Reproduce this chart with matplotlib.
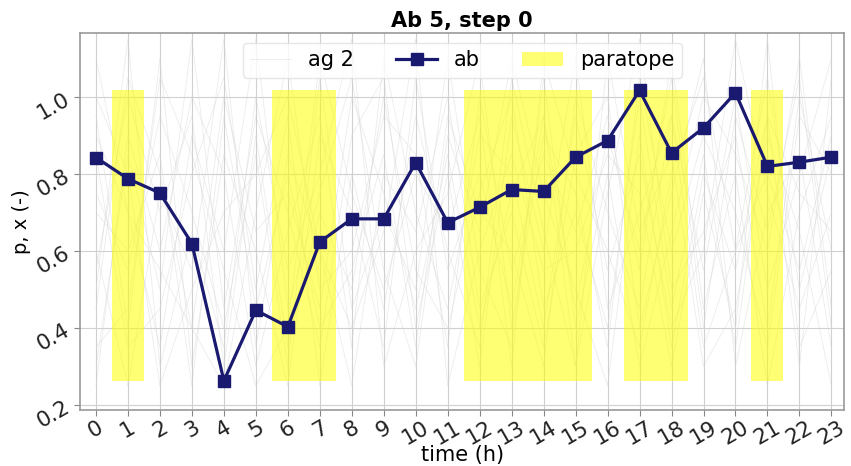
import numpy as np
import matplotlib.pyplot as plt

hours = list(range(24))
ab = [0.842, 0.787, 0.750, 0.619, 0.263, 0.446, 0.403, 0.623, 0.683, 0.683,
      0.829, 0.673, 0.713, 0.759, 0.754, 0.843, 0.886, 1.016, 0.854, 0.919,
      1.010, 0.819, 0.830, 0.843]
paratope = [1, 6, 7, 12, 13, 14, 15, 17, 18, 21]

# faint background antigen traces (hand-read approximations)
ag = [
    [0.95, 0.40, 1.10, 0.30, 0.85, 0.60, 0.25, 0.90, 0.70, 0.35, 1.05, 0.55, 0.80, 0.45, 0.95, 0.30, 0.75, 1.15, 0.50, 0.65, 0.90, 0.40, 1.00, 0.60],
    [0.30, 0.85, 0.50, 1.15, 0.45, 0.95, 0.70, 0.35, 0.90, 1.05, 0.40, 0.80, 0.30, 0.95, 0.60, 1.10, 0.45, 0.70, 0.95, 0.35, 0.60, 1.05, 0.50, 0.85],
    [0.60, 0.25, 0.75, 0.55, 1.15, 0.35, 0.85, 0.60, 0.25, 0.80, 0.65, 1.00, 0.45, 0.70, 0.35, 0.85, 1.00, 0.40, 0.75, 1.10, 0.30, 0.70, 0.85, 0.35],
    [1.10, 0.70, 0.35, 0.90, 0.60, 1.15, 0.45, 0.75, 1.05, 0.55, 0.30, 0.90, 0.65, 1.10, 0.75, 0.50, 0.25, 0.90, 0.35, 0.80, 0.55, 0.95, 0.30, 1.05],
    [0.45, 1.05, 0.80, 0.40, 0.25, 0.70, 1.10, 0.50, 0.60, 0.95, 0.85, 0.35, 1.00, 0.55, 0.85, 0.65, 0.95, 0.55, 1.10, 0.45, 0.80, 0.25, 0.70, 0.95],
    [0.75, 0.55, 0.95, 0.70, 0.40, 0.85, 0.30, 1.05, 0.45, 0.70, 0.50, 1.10, 0.55, 0.35, 1.05, 0.40, 0.80, 0.30, 0.65, 1.00, 0.85, 0.60, 1.10, 0.45],
    [0.25, 0.90, 0.60, 1.00, 0.80, 0.30, 0.65, 0.95, 0.35, 1.10, 0.70, 0.45, 0.90, 0.80, 0.40, 0.95, 0.55, 0.85, 0.40, 0.60, 1.15, 0.75, 0.45, 0.70],
    [0.85, 0.35, 0.45, 0.80, 1.05, 0.50, 0.95, 0.25, 0.80, 0.45, 0.95, 0.60, 0.35, 1.05, 0.65, 0.30, 1.10, 0.65, 0.85, 0.30, 0.45, 0.90, 0.65, 0.25],
    [0.50, 1.15, 0.30, 0.65, 0.35, 1.00, 0.55, 0.80, 1.15, 0.30, 0.60, 0.75, 1.10, 0.40, 0.90, 0.75, 0.35, 1.05, 0.60, 0.90, 0.70, 0.35, 0.95, 0.80],
    [0.70, 0.60, 0.85, 0.25, 0.95, 0.45, 0.80, 0.40, 0.55, 0.85, 0.35, 0.95, 0.70, 0.60, 0.30, 1.00, 0.70, 0.45, 0.95, 0.55, 1.00, 0.50, 0.80, 1.10],
    [1.00, 0.80, 0.25, 0.50, 0.70, 0.80, 1.00, 0.60, 0.40, 0.65, 1.15, 0.25, 0.60, 0.85, 0.55, 0.60, 0.85, 0.75, 0.30, 0.75, 0.40, 1.15, 0.35, 0.55],
    [0.35, 0.45, 1.05, 0.85, 0.55, 0.25, 0.40, 1.10, 0.75, 0.50, 0.80, 0.65, 0.95, 0.30, 1.10, 0.80, 0.60, 0.35, 0.80, 1.05, 0.60, 0.80, 0.55, 0.90],
    [0.90, 0.70, 0.55, 0.40, 1.00, 0.65, 0.75, 0.45, 1.00, 0.75, 0.45, 0.85, 0.40, 0.75, 0.95, 0.45, 0.90, 0.60, 1.05, 0.40, 0.95, 0.65, 1.05, 0.40],
    [0.55, 1.00, 0.70, 0.95, 0.30, 0.90, 0.35, 0.70, 0.50, 1.00, 0.55, 0.40, 0.75, 1.00, 0.45, 0.70, 0.40, 1.00, 0.45, 0.85, 0.35, 0.95, 0.75, 0.65],
]
ag_label = "ag 2"

fig = plt.figure(figsize=(8.51, 4.66), dpi=100)
ax = fig.add_axes([0.094, 0.12, 0.898, 0.81])

for i, row in enumerate(ag):
    ax.plot(hours, row, color='#d4d4d4', lw=0.6, alpha=0.45,
            label=ag_label if i == 0 else None, zorder=1)

lo, hi = min(ab), max(ab)
for j, p in enumerate(paratope):
    ax.bar(p, hi - lo, bottom=lo, width=1.0, color='yellow', alpha=0.55,
           lw=0, label='paratope' if j == 0 else None, zorder=2)

ax.plot(hours, ab, color='#191970', lw=2.3, marker='s', markersize=8,
        label='ab', zorder=3)

ax.set_xlim(-0.5, 23.4)
ax.set_ylim(0.187, 1.166)
ax.set_xticks(hours)
ax.set_yticks([0.2, 0.4, 0.6, 0.8, 1.0])
ax.set_yticklabels(['0.2', '0.4', '0.6', '0.8', '1.0'])
ax.tick_params(axis='both', labelsize=15.5, colors='#222222', length=4,
               color='#888888', pad=1)
for lab in ax.get_xticklabels() + ax.get_yticklabels():
    lab.set_rotation(30)
ax.grid(True, color='#d0d0d0', lw=0.8, zorder=0)
ax.set_axisbelow(True)
for s in ax.spines.values():
    s.set_color('#999999')
    s.set_linewidth(1.2)

ax.set_xlabel('time (h)', fontsize=15, labelpad=-2)
ax.set_ylabel('p, x (-)', fontsize=14, labelpad=2)
ax.set_title('Ab 5, step 0', fontsize=15, fontweight='bold', pad=4)

h, l = ax.get_legend_handles_labels()
order = [l.index('ag 2'), l.index('ab'), l.index('paratope')]
ax.legend([h[k] for k in order], [l[k] for k in order], loc='upper center',
          ncol=3, fontsize=15, frameon=True, framealpha=0.8, edgecolor='#e0e0e0',
          bbox_to_anchor=(0.5, 1.0), borderaxespad=0.5, columnspacing=2.0,
          borderpad=0.35)

fig.savefig('out.png', dpi=100)
